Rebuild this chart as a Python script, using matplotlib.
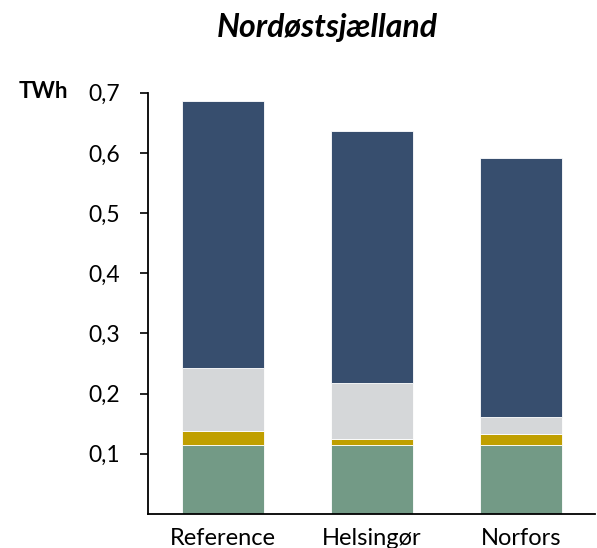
import matplotlib
matplotlib.use("Agg")
import matplotlib.pyplot as plt
import numpy as np

# Scenario categories and stacked components (TWh)
scenarios = ["Reference", "Helsingør", "Norfors"]
green_part = [0.115, 0.115, 0.115]
gold_part = [0.023, 0.010, 0.018]
grey_part = [0.104, 0.093, 0.028]
navy_part = [0.444, 0.419, 0.430]
y_ticks = [0.1, 0.2, 0.3, 0.4, 0.5, 0.6, 0.7]

colors = ["#739A86", "#C09F00", "#D5D7D9", "#374E6E"]
layers = [green_part, gold_part, grey_part, navy_part]

plt.rcParams["font.family"] = ["Lato", "DejaVu Sans"]

W, H = 597, 548
fig = plt.figure(figsize=(W / 100, H / 100), dpi=100)
ax = fig.add_axes([147.5 / W, 1 - 514 / H, (595 - 147.5) / W, (514 - 92.7) / H])

x = np.arange(len(scenarios))
bottom = np.zeros(len(scenarios))
for vals, c in zip(layers, colors):
    ax.bar(x, vals, bottom=bottom, width=0.555, color=c,
           edgecolor="white", linewidth=0.6)
    bottom += np.array(vals)

ax.set_xlim(-0.507, 2.497)
ax.set_ylim(0, 0.7)
ax.set_yticks(y_ticks)
ax.set_yticklabels([f"{t:.1f}".replace(".", ",") for t in y_ticks], fontsize=16.5)
ax.set_xticks(x)
ax.set_xticklabels(scenarios, fontsize=17)
ax.tick_params(axis="x", length=0, pad=10)
ax.tick_params(axis="y", length=5.5, width=1.2, pad=14)
for s in ["top", "right"]:
    ax.spines[s].set_visible(False)
for s in ["left", "bottom"]:
    ax.spines[s].set_linewidth(1.3)

fig.text(327 / W, 1 - 27 / H, "Nordøstsjælland", ha="center", va="center",
         fontsize=23, fontweight="bold", fontstyle="italic")
fig.text(19 / W, 1 - 92 / H, "TWh", ha="left", va="center",
         fontsize=16, fontweight="bold")

fig.savefig("out.png", dpi=100)
